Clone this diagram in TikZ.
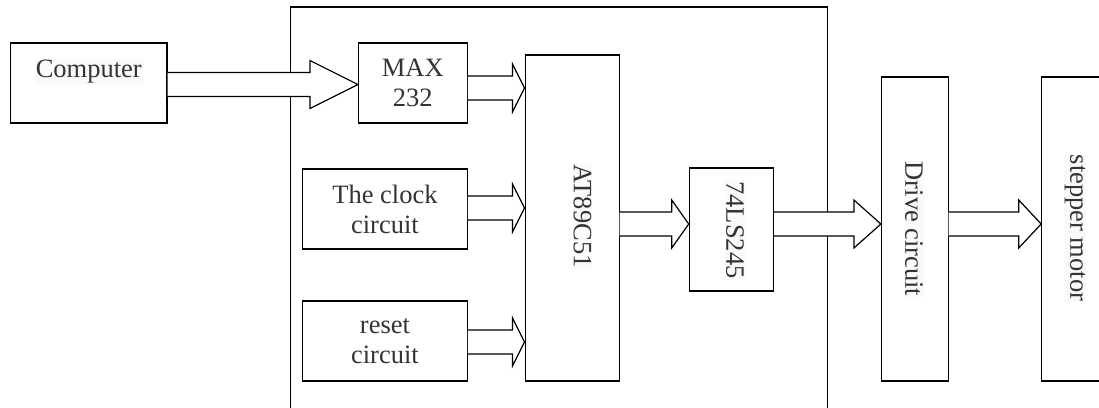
\documentclass[tikz,border=0pt]{standalone}
\usepackage{fontspec}
\setmainfont{Liberation Serif}
\usetikzlibrary{
    positioning,
    calc
}
\tikzset{
    % --- Functional block (rectangle with centred text) ---
    block/.style = {
        rectangle, draw, line width=1.2pt, inner sep=0pt,
        align=center, font=\fontsize{26.5}{30}\selectfont,
        text=black!80
    },
    % --- Board outline (controller board boundary) ---
    board/.style = {
        rectangle, draw, line width=1.2pt
    },
    % --- Horizontal text label ---
    hlabel/.style = {
        font=\fontsize{26.5}{30}\selectfont, text=black!80,
        fill=black!2, inner sep=1pt
    },
    % --- Vertical text label (reads top to bottom) ---
    vlabel/.style = {
        hlabel, rotate=-90
    },
    % --- Hollow bus arrow ---
    bus/.style = {
        draw, fill=white, line width=1.2pt, line join=miter
    }
}
% hollow bus arrow: source node, target node, y, head length
\newcommand{\busarrow}[4]{%
    \path (#1.east |- 0,#3) coordinate (bs)
          (#2.west |- 0,#3) coordinate (bt);
    \draw[bus] ($(bs)+(0,-12)$) -- ($(bt)+(-#4,-12)$) -- ($(bt)+(-#4,-24)$)
        -- (bt) -- ($(bt)+(-#4,24)$) -- ($(bt)+(-#4,12)$) -- ($(bs)+(0,12)$);
}

\begin{document}
\begin{tikzpicture}[x=1pt, y=-1pt]
\useasboundingbox (0,0) rectangle (1099,407);
\clip (0,0) rectangle (1099,407);

% ---------------------------------------------------------
% Controller board
% ---------------------------------------------------------
\node[board, minimum width=536.7pt, minimum height=420pt] (mcu) at (558.75,217) {};

% ---------------------------------------------------------
% Blocks
% ---------------------------------------------------------
\node[block, minimum width=156.5pt, minimum height=80pt] (comp) at (88.75,83) {};
\node[hlabel] (comptxt) at ($(comp.center)+(0,-11)$) {Computer};

\node[block, minimum width=108.7pt, minimum height=80pt] (max) at (412.85,83) {MAX\\232};
\node[block, minimum width=164.5pt, minimum height=80pt] (clock) at (384.95,209) {The clock\\circuit};
\node[block, minimum width=164.5pt, minimum height=80pt] (reset) at (384.95,341) {reset\\circuit};

\node[block, minimum width=94pt, minimum height=326pt] (at) at (572.1,218) {};
\node[vlabel] (attxt) at ($(at.center)+(10.4,-2)$) {AT89C51};

\node[block, minimum width=84.1pt, minimum height=123pt] (ls) at (731.35,229.5) {};
\node[vlabel] (lstxt) at ($(ls.center)+(3.6,0.5)$) {74LS245};

\node[block, minimum width=66.6pt, minimum height=304pt] (drive) at (914.8,229) {};
\node[vlabel] (drivetxt) at ($(drive.center)+(-0.8,0)$) {Drive circuit};

\node[block, minimum width=68.2pt, minimum height=304pt] (motor) at (1075.9,229) {};
\node[vlabel] (motortxt) at ($(motor.center)+(-0.9,-1)$) {stepper motor};

% ---------------------------------------------------------
% Bus arrows
% ---------------------------------------------------------
\busarrow{comp}{max}{84.5}{48}
\busarrow{max}{at}{88}{12}
\busarrow{clock}{at}{208}{12}
\busarrow{reset}{at}{342}{12}
\busarrow{at}{ls}{224}{17}
\busarrow{ls}{drive}{224}{27}
\busarrow{drive}{motor}{224}{22.5}

\end{tikzpicture}
\end{document}
